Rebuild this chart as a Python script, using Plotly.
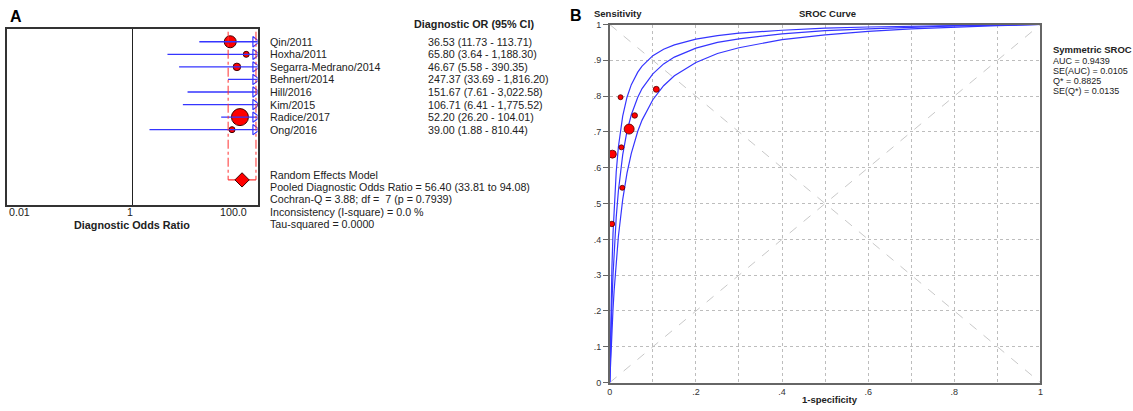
import math
import plotly.graph_objects as go

W, H = 1133, 411
FONT = "Liberation Sans, Arial, sans-serif"
TXT = "#222222"
RED = "#ff0000"
BLUE = "#3535ff"

# ---- panel A: forest plot of diagnostic odds ratios ----
STUDIES = ["Qin/2011", "Hoxha/2011", "Segarra-Medrano/2014", "Behnert/2014",
           "Hill/2016", "Kim/2015", "Radice/2017", "Ong/2016"]
DOR = [36.53, 65.80, 46.67, 247.37, 151.67, 106.71, 52.20, 39.00]
CI_LO = [11.73, 3.64, 5.58, 33.69, 7.61, 6.41, 26.20, 1.88]
CI_HI = [113.71, 1188.30, 390.35, 1816.20, 3022.58, 1775.52, 104.01, 810.44]
WEIGHT_PX = [12, 6, 7.5, 5, 4, 4, 17, 6]
POOLED, POOLED_LO, POOLED_HI = 56.40, 33.81, 94.08
STATS_LINES = [
    "Random Effects Model",
    "Pooled Diagnostic Odds Ratio = 56.40 (33.81 to 94.08)",
    "Cochran-Q = 3.88; df =  7 (p = 0.7939)",
    "Inconsistency (I-square) = 0.0 %",
    "Tau-squared = 0.0000",
]
FOREST_TICKS = [0.01, 1, 100]
FOREST_TICKTEXT = ["0.01", "1", "100.0"]

# ---- panel B: SROC curve ----
SROC_FPR = [0, 0.001, 0.002, 0.0035, 0.005, 0.0075, 0.01, 0.015, 0.02, 0.03, 0.04,
            0.05, 0.065, 0.075, 0.1, 0.125, 0.15, 0.2, 0.25, 0.3, 0.4, 0.5, 0.6,
            0.7, 0.8, 0.9, 1.0]
SROC_LOW = [0, 0.033, 0.064, 0.106, 0.145, 0.204, 0.255, 0.340, 0.408, 0.511, 0.585,
            0.640, 0.702, 0.733, 0.790, 0.829, 0.857, 0.894, 0.919, 0.935, 0.958,
            0.971, 0.981, 0.988, 0.993, 0.997, 1.0]
SROC_MID = [0, 0.053, 0.102, 0.165, 0.221, 0.299, 0.363, 0.462, 0.535, 0.636, 0.702,
            0.748, 0.797, 0.821, 0.862, 0.890, 0.909, 0.934, 0.950, 0.960, 0.974,
            0.983, 0.988, 0.993, 0.996, 0.998, 1.0]
SROC_HIGH = [0, 0.086, 0.159, 0.248, 0.321, 0.416, 0.487, 0.589, 0.658, 0.744, 0.797,
             0.832, 0.867, 0.884, 0.913, 0.931, 0.943, 0.959, 0.969, 0.976, 0.984,
             0.990, 0.993, 0.996, 0.997, 0.999, 1.0]
PT_FPR = [0.006, 0.025, 0.108, 0.058, 0.045, 0.027, 0.029, 0.005]
PT_SENS = [0.638, 0.797, 0.819, 0.746, 0.708, 0.657, 0.544, 0.443]
PT_SIZE = [8, 5, 6, 5.5, 10, 5, 5, 5.5]
SROC_STATS = ["AUC = 0.9439", "SE(AUC) = 0.0105", "Q* = 0.8825", "SE(Q*) = 0.0135"]
X_TICKS = [0, 0.2, 0.4, 0.6, 0.8, 1]
X_TICKTEXT = ["0", ".2", ".4", ".6", ".8", "1"]
Y_TICKS = [0, 0.1, 0.2, 0.3, 0.4, 0.5, 0.6, 0.7, 0.8, 0.9, 1]
Y_TICKTEXT = ["0", ".1", ".2", ".3", ".4", ".5", ".6", ".7", ".8", ".9", "1"]

# forest box in window pixels
BOX_L, BOX_R, BOX_T, BOX_B = 4, 256, 24.3, 205
ROW_MIN, ROW_MAX = -0.04, 14.0


def px(x):
    return x / W


def py(y):
    return 1 - y / H


def row_py(r):
    # paper y of a forest row, same mapping as the reversed y axis
    return py(BOX_T + (r - ROW_MIN) / (ROW_MAX - ROW_MIN) * (BOX_B - BOX_T))


def log_px(v):
    # paper x of a value on the forest log axis
    return px(BOX_L + (math.log10(v) + 2) / 4 * (BOX_R - BOX_L))


rows = list(range(1, len(STUDIES) + 1))
POOLED_ROW = 12
ARROW_X = 10 ** (2 - 0.04)  # arrow head sits just inside the right edge

fig = go.Figure()

# study circles (drawn first so the CI lines run over them)
fig.add_trace(go.Scatter(
    x=DOR, y=rows, mode="markers", xaxis="x", yaxis="y",
    marker=dict(size=WEIGHT_PX, color=RED, opacity=1, line=dict(color="#400000", width=1)),
))

ci_x, ci_y = [], []
for r, lo, hi in zip(rows, CI_LO, CI_HI):
    ci_x += [lo, hi, None]
    ci_y += [r, r, None]
fig.add_trace(go.Scatter(x=ci_x, y=ci_y, mode="lines", xaxis="x", yaxis="y",
                         line=dict(color=BLUE, width=1.3)))

# truncated upper limits
fig.add_trace(go.Scatter(
    x=[ARROW_X if hi > 100 else None for hi in CI_HI], y=rows, mode="markers",
    xaxis="x", yaxis="y",
    marker=dict(symbol="triangle-right-open", size=9, color=BLUE, line=dict(color=BLUE, width=1.2)),
))

# pooled CI bracket
fig.add_trace(go.Scatter(
    x=[POOLED_LO, POOLED_LO, None, POOLED_HI, POOLED_HI],
    y=[0.2, POOLED_ROW, None, 0.2, POOLED_ROW],
    mode="lines", xaxis="x", yaxis="y",
    line=dict(color="#ff3030", width=1, dash="dashdot"),
))
fig.add_trace(go.Scatter(x=[POOLED_LO, POOLED_HI], y=[POOLED_ROW, POOLED_ROW], mode="lines",
                         xaxis="x", yaxis="y", line=dict(color="#ff3030", width=1.2)))
fig.add_trace(go.Scatter(
    x=[POOLED], y=[POOLED_ROW], mode="markers", xaxis="x", yaxis="y",
    marker=dict(symbol="diamond", size=11, color=RED, opacity=1, line=dict(color="#400000", width=1)),
))

# SROC curves
for ys in (SROC_LOW, SROC_MID, SROC_HIGH):
    fig.add_trace(go.Scatter(x=SROC_FPR, y=ys, mode="lines", xaxis="x2", yaxis="y2",
                             line=dict(color=BLUE, width=1.2)))
fig.add_trace(go.Scatter(
    x=PT_FPR, y=PT_SENS, mode="markers", xaxis="x2", yaxis="y2",
    marker=dict(size=PT_SIZE, color=RED, opacity=1, line=dict(color="#500000", width=0.8)),
))

ann = []
ann.append(dict(text="<b>A</b>", x=px(5), y=py(12), font=dict(size=16, color="black"),
                xanchor="left"))
ann.append(dict(text="<b>B</b>", x=px(568), y=py(11), font=dict(size=16, color="black"),
                xanchor="left"))
ann.append(dict(text="<b>Diagnostic OR (95% CI)</b>", x=px(411), y=py(19),
                font=dict(size=10.8), xanchor="left"))
for r, name, d, lo, hi in zip(rows, STUDIES, DOR, CI_LO, CI_HI):
    ann.append(dict(text=name, x=px(266), y=row_py(r), font=dict(size=10.7), xanchor="left"))
    ann.append(dict(text=f"{d:.2f} ({lo:,.2f} - {hi:,.2f})", x=px(425), y=row_py(r),
                    font=dict(size=10.7), xanchor="left"))
for i, line in enumerate(STATS_LINES):
    ann.append(dict(text=line, x=px(266), y=py(174 + i * 12.6), font=dict(size=10.7),
                    xanchor="left"))
for v, t, anchor, shift in zip(FOREST_TICKS, FOREST_TICKTEXT, ["left", "center", "right"], [0, -2, -9]):
    ann.append(dict(text=t, x=log_px(v), y=py(212), font=dict(size=10.7),
                    xanchor=anchor, xshift=shift))
ann.append(dict(text="<b>Diagnostic Odds Ratio</b>", x=px(130), y=py(225),
                font=dict(size=10.8), xanchor="center"))

ann.append(dict(text="<b>Sensitivity</b>", x=px(592), y=py(9), font=dict(size=9.5),
                xanchor="left"))
ann.append(dict(text="<b>SROC Curve</b>", x=px(829), y=py(9), font=dict(size=9.5),
                xanchor="center"))
ann.append(dict(text="<b>1-specificity</b>", x=px(831), y=py(404), font=dict(size=9.5),
                xanchor="center"))
ann.append(dict(text="<b>Symmetric SROC</b>", x=px(1054), y=py(46), font=dict(size=9.5),
                xanchor="left"))
for i, line in enumerate(SROC_STATS):
    ann.append(dict(text=line, x=px(1054), y=py(57.5 + i * 10.2), font=dict(size=9),
                    xanchor="left"))

for a in ann:
    a["xref"] = "paper"
    a["yref"] = "paper"
    a["yanchor"] = "middle"
    a["showarrow"] = False
    a["font"].setdefault("color", TXT)
    a["font"]["family"] = FONT

shapes = [
    dict(type="line", xref="x2", yref="y2", x0=0, y0=1, x1=1, y1=0,
         line=dict(color="#c8c8c8", width=1, dash="dash"), layer="below"),
    dict(type="line", xref="x2", yref="y2", x0=0, y0=0, x1=1, y1=1,
         line=dict(color="#c8c8c8", width=1, dash="dash"), layer="below"),
]

fig.update_layout(
    width=W, height=H, autosize=False,
    margin=dict(l=0, r=0, t=0, b=0),
    paper_bgcolor="white", plot_bgcolor="white",
    showlegend=False,
    font=dict(family=FONT, color=TXT),
    annotations=ann, shapes=shapes,
    xaxis=dict(type="log", range=[-2, 2], domain=[px(BOX_L), px(BOX_R)], anchor="y",
               tickvals=[1], showticklabels=False, ticks="",
               showgrid=True, gridcolor="#222222", gridwidth=1,
               showline=True, mirror=True, linecolor="#333333", linewidth=1.5,
               zeroline=False),
    yaxis=dict(range=[ROW_MAX, ROW_MIN], domain=[py(BOX_B), py(BOX_T)], anchor="x",
               showticklabels=False, ticks="", showgrid=False, zeroline=False,
               showline=True, mirror=True, linecolor="#333333", linewidth=1.5),
    xaxis2=dict(range=[0, 1], domain=[px(610), px(1043)], anchor="y2",
                tickvals=X_TICKS, ticktext=X_TICKTEXT, ticks="",
                tickfont=dict(size=9, color="#333333"),
                showgrid=True, gridcolor="#bdbdbd", griddash="dot", gridwidth=1,
                minor=dict(dtick=0.1, showgrid=True, gridcolor="#bdbdbd", griddash="dot"),
                showline=True, mirror=True, linecolor="#666666", linewidth=1.5,
                zeroline=False),
    yaxis2=dict(range=[0, 1], domain=[py(387), py(20)], anchor="x2",
                tickvals=Y_TICKS, ticktext=Y_TICKTEXT, ticks="outside", ticklen=5,
                tickcolor="#666666", tickfont=dict(size=9, color="#333333"),
                showgrid=True, gridcolor="#bdbdbd", griddash="dot", gridwidth=1,
                showline=True, mirror=True, linecolor="#666666", linewidth=1.5,
                zeroline=False),
)

# page margin off so the figure sits at the window's top-left corner
fig.write_html("out.html", config={"displayModeBar": False},
               post_script="document.body.style.margin='0';document.body.style.overflow='hidden';")
